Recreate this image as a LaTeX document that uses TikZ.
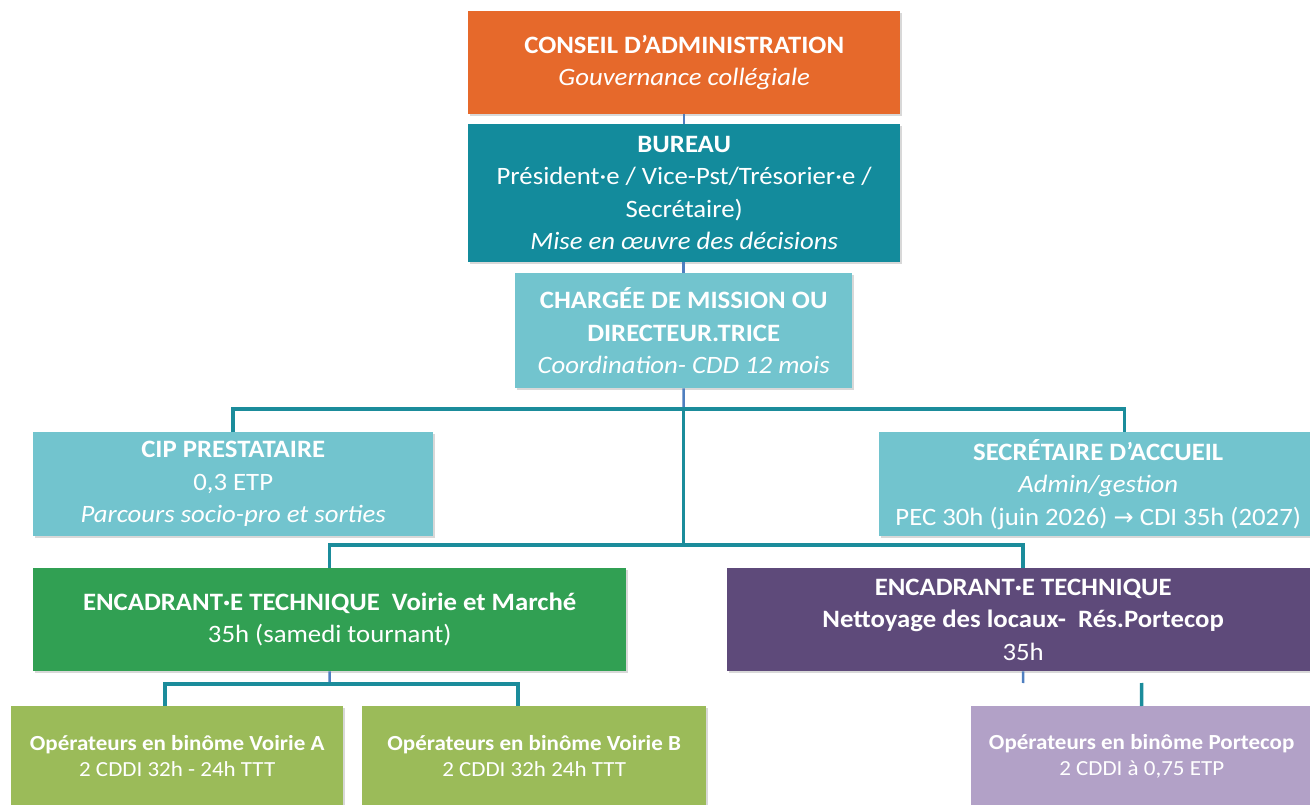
\documentclass[tikz,border=0pt]{standalone}
\usepackage{fontspec}
\setmainfont{Carlito}[FakeStretch=1.07]
\newfontfamily\symfont{DejaVu Sans}
\usetikzlibrary{shadows,calc}
\definecolor{caorange}{HTML}{E6692B}
\definecolor{bureauteal}{HTML}{138B9C}
\definecolor{lightteal}{HTML}{72C4CE}
\definecolor{encgreen}{HTML}{31A053}
\definecolor{encpurple}{HTML}{5E4A7A}
\definecolor{opgreen}{HTML}{9BBB59}
\definecolor{oppurple}{HTML}{B2A1C7}
\definecolor{tealline}{HTML}{1B8C9B}
\definecolor{blueline}{HTML}{4F7FC0}
\begin{document}
\begin{tikzpicture}[x=1pt,y=-1pt,
  box/.style={rectangle, inner sep=0pt, anchor=north west, text=white, align=center,
    drop shadow={shadow xshift=1.5pt, shadow yshift=-1.5pt, opacity=0.3}},
  big/.style={font=\fontsize{25}{32.5}\selectfont},
  small/.style={font=\fontsize{21.5}{26}\selectfont},
  conn/.style={line width=3.5pt, color=tealline},
  tick/.style={line width=2.5pt, color=blueline}]
\useasboundingbox (0,0) rectangle (1310,805);
\fill[white] (0,0) rectangle (1310,805);

% nodes
\node[box, big, fill=caorange, minimum width=432pt, minimum height=103pt] (ca) at (468,11)
  {\textbf{CONSEIL D’ADMINISTRATION}\\\textit{Gouvernance collégiale}};
\node[box, big, fill=bureauteal, minimum width=432pt, minimum height=138pt] (bur) at (468,124)
  {\textbf{BUREAU}\\Président·e / Vice-Pst/Trésorier·e /\\Secrétaire)\\\textit{Mise en œuvre des décisions}};
\node[box, big, fill=lightteal, minimum width=337pt, minimum height=115pt] (chg) at (515,273)
  {\textbf{CHARGÉE DE MISSION OU}\\\textbf{DIRECTEUR.TRICE}\\\textit{Coordination- CDD 12 mois}};
\node[box, big, fill=lightteal, minimum width=400pt, minimum height=104pt] (cip) at (33,432)
  {\textbf{CIP PRESTATAIRE}\\0,3 ETP\\\textit{Parcours socio-pro et sorties}};
\node[box, big, fill=lightteal, minimum width=438pt, minimum height=104pt] (sec) at (879,432)
  {\textbf{SECRÉTAIRE D’ACCUEIL}\\\textit{Admin/gestion}\\PEC 30h (juin 2026) {\symfont\fontsize{24}{24}\selectfont →} CDI 35h (2027)};
\node[box, big, fill=encgreen, minimum width=593pt, minimum height=103pt] (encv) at (33,568)
  {\textbf{ENCADRANT·E TECHNIQUE\ \ Voirie et Marché}\\35h (samedi tournant)};
\node[box, big, fill=encpurple, minimum width=592pt, minimum height=103pt] (encp) at (727,568)
  {\textbf{ENCADRANT·E TECHNIQUE}\\\textbf{Nettoyage des locaux-\ \ Rés.Portecop}\\35h};
\node[box, small, fill=opgreen, minimum width=332pt, minimum height=100pt] (opa) at (11,706)
  {\textbf{Opérateurs en binôme Voirie A}\\2 CDDI 32h - 24h TTT};
\node[box, small, fill=opgreen, minimum width=344pt, minimum height=100pt] (opb) at (362,706)
  {\textbf{Opérateurs en binôme Voirie B}\\2 CDDI 32h 24h TTT};
\node[box, small, fill=oppurple, minimum width=341pt, minimum height=100pt] (opp) at (971,706)
  {\textbf{Opérateurs en binôme Portecop}\\2 CDDI à 0,75 ETP};

% junction coordinates
\coordinate (j1) at (683.5,409);
\coordinate (j2) at (683.5,545);
\coordinate (jv) at (329.5,684);
\coordinate (tp) at (1023,683);
\coordinate (tq) at (1141.5,683);

% connectors
\draw[tick] (ca.south) -- (bur.north);
\draw[tick] (bur.south -| chg.south) -- (chg.north);
\draw[tick] (chg.south) -- (j1);
\draw[conn] (j1) -- (j2);
\draw[conn] (cip.north) |- (j1) -| ([xshift=26.5pt]sec.north);
\draw[conn] (encv.north) |- (j2) -| (encp.north);
\draw[tick] (encv.south) -- (jv);
\draw[conn] ([xshift=-12pt]opa.north) |- (jv) -| ([xshift=-16pt]opb.north);
\draw[tick] (encp.south) -- (tp);
\draw[conn] (opp.north) -- (tq);
\end{tikzpicture}
\end{document}
